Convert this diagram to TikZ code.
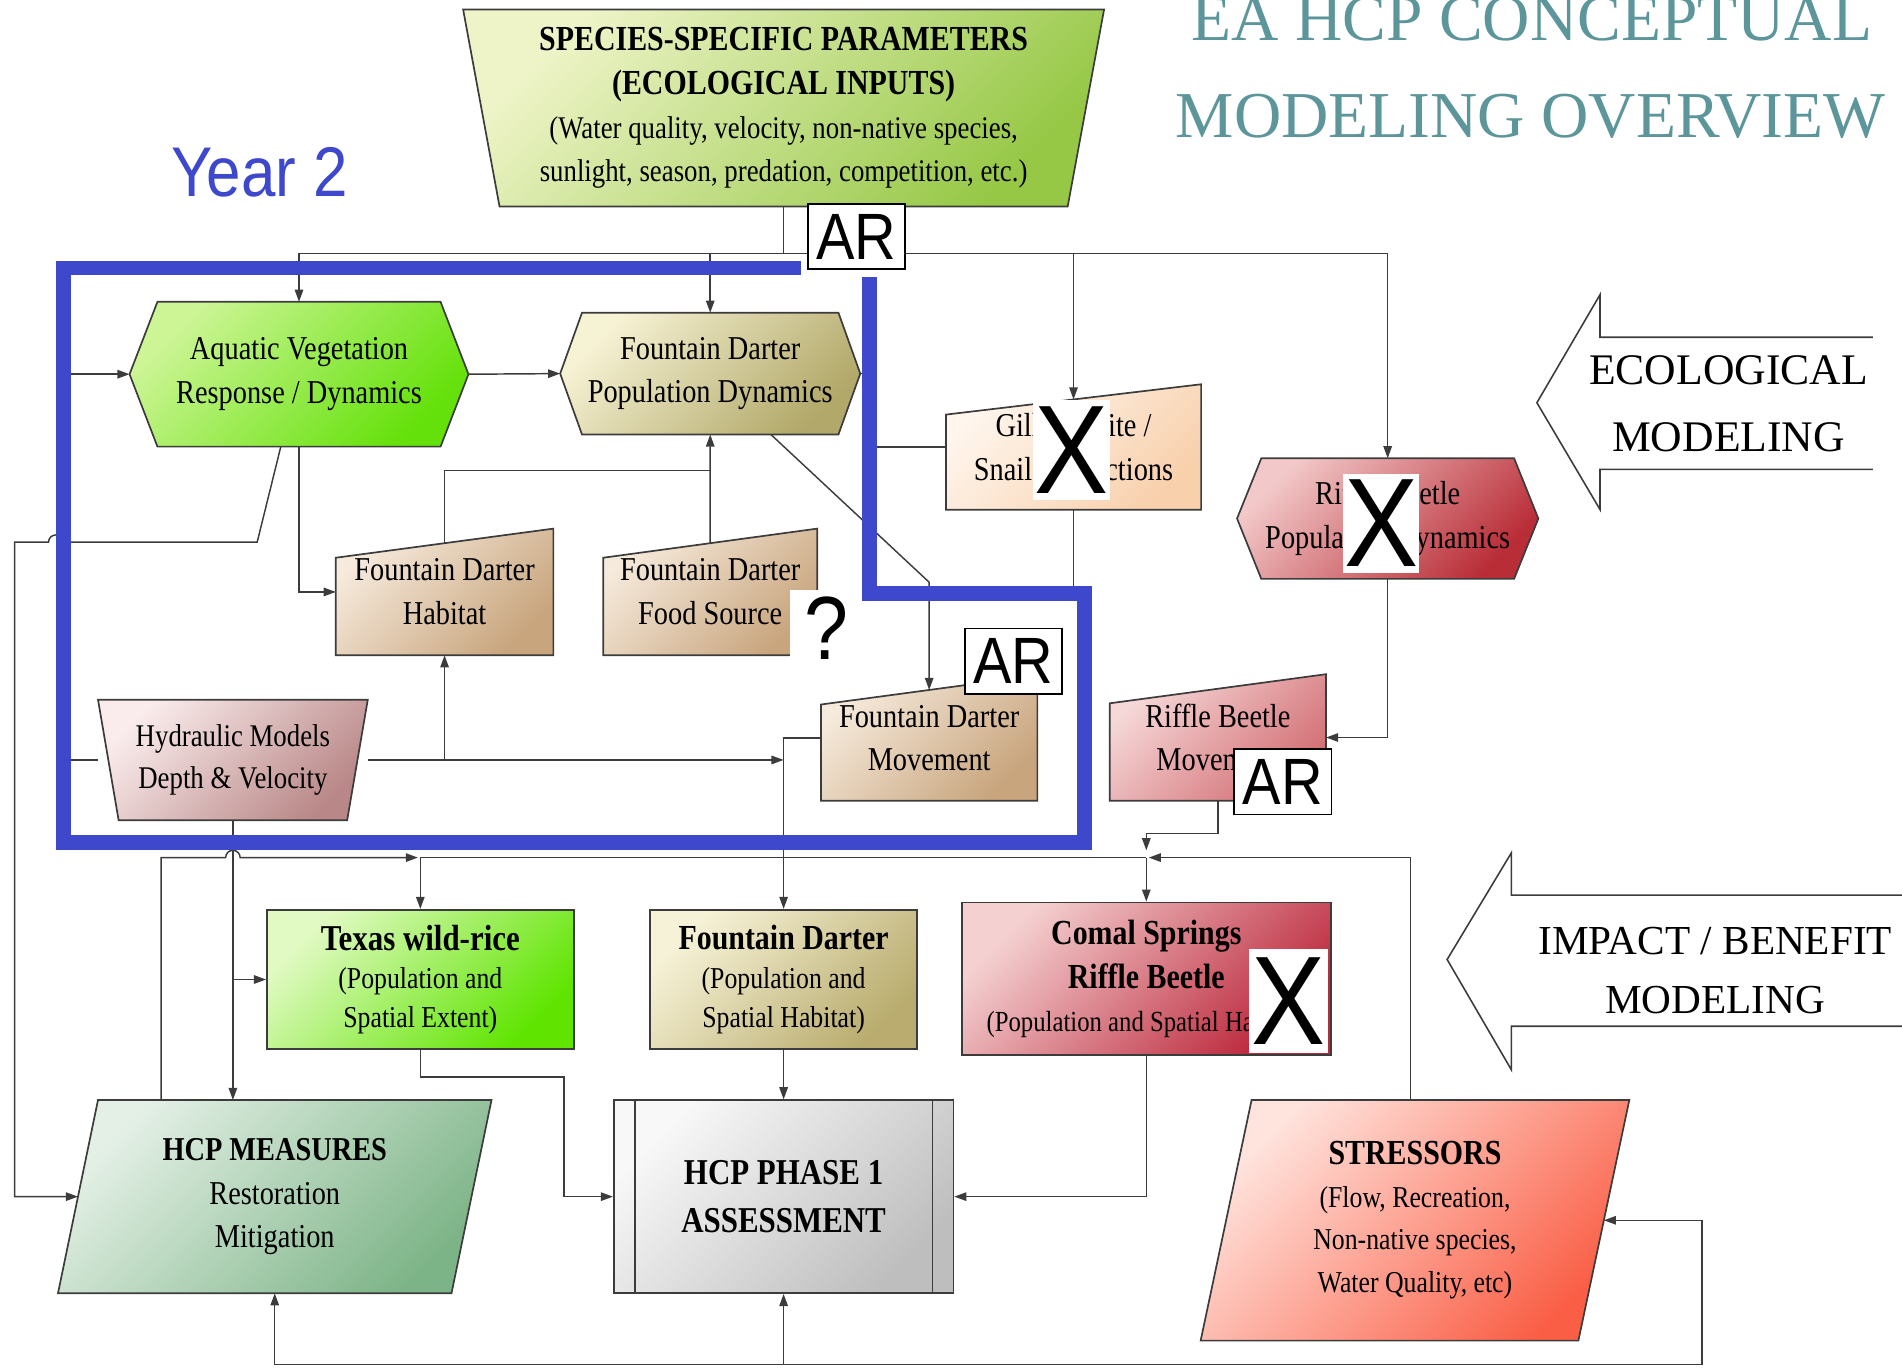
\documentclass[tikz,border=0pt]{standalone}
\usepackage{fontspec}
\setmainfont{Liberation Serif}[FakeStretch=0.85]
\newfontfamily\plainserif{Liberation Serif}
\newfontfamily\tagfont{Liberation Sans}[FakeStretch=0.88]
\usetikzlibrary{arrows.meta,calc}

\definecolor{yearblue}{RGB}{62,72,204}
\definecolor{titleteal}{RGB}{92,150,155}
\definecolor{linegray}{RGB}{60,60,60}
\definecolor{specA}{RGB}{238,244,200}\definecolor{specB}{RGB}{150,200,70}
\definecolor{aqvA}{RGB}{205,245,150}\definecolor{aqvB}{RGB}{100,225,10}
\definecolor{fdpA}{RGB}{246,242,212}\definecolor{fdpB}{RGB}{178,168,105}
\definecolor{tanA}{RGB}{246,234,220}\definecolor{tanB}{RGB}{200,165,125}
\definecolor{hydA}{RGB}{250,236,236}\definecolor{hydB}{RGB}{185,135,135}
\definecolor{gillA}{RGB}{255,246,238}\definecolor{gillB}{RGB}{248,208,172}
\definecolor{rbpA}{RGB}{242,200,200}\definecolor{rbpB}{RGB}{185,45,55}
\definecolor{rbmA}{RGB}{246,216,216}\definecolor{rbmB}{RGB}{210,110,115}
\definecolor{texA}{RGB}{225,250,195}\definecolor{texB}{RGB}{95,228,0}
\definecolor{fdbA}{RGB}{246,242,215}\definecolor{fdbB}{RGB}{185,172,110}
\definecolor{comA}{RGB}{244,208,208}\definecolor{comB}{RGB}{188,40,60}
\definecolor{hcpmA}{RGB}{228,240,230}\definecolor{hcpmB}{RGB}{125,180,135}
\definecolor{hcppA}{RGB}{248,248,248}\definecolor{hcppB}{RGB}{190,190,190}
\definecolor{strA}{RGB}{255,228,222}\definecolor{strB}{RGB}{250,95,70}

\pgfdeclarelayer{lines}
\pgfdeclarelayer{shapes}
\pgfsetlayers{lines,shapes,main}

\begin{document}
\begin{tikzpicture}[x=1pt,y=-1pt]
  \tikzset{>={Triangle[length=10pt,width=7pt]}}
  \tikzset{
    txt/.style={align=center,inner sep=0pt,font=\fontsize{27.5}{36}\selectfont},
    grad/.style 2 args={top color=#1,bottom color=#2,shading angle=45},
    shp/.style={draw=linegray,line width=1.4pt},
    con/.style={draw=linegray,line width=1.2pt},
    yearline/.style={draw=yearblue,line width=12pt},
    arbox/.style={draw=black,line width=1.3pt,fill=white,inner sep=0pt,minimum width=80,minimum height=54,font=\tagfont\fontsize{54}{54}\selectfont},
    xbox/.style={fill=white,inner sep=0pt,minimum width=63,minimum height=82,font=\tagfont\fontsize{104}{104}\selectfont},
    side/.style={align=center,inner sep=0pt,font=\plainserif\fontsize{36}{55}\selectfont},
  }
  \useasboundingbox (0,0) rectangle (1568,1131);

%%%%%%%%%%%%%%%%%%%%%%%%%%
% titles
\node[anchor=base,inner sep=0pt,text=titleteal,font=\plainserif\fontsize{54}{60}\selectfont] (title1) at (1263,33) {EA HCP CONCEPTUAL};
\node[anchor=base,inner sep=0pt,text=titleteal,font=\plainserif\fontsize{54}{60}\selectfont] (title2) at (1262,113) {MODELING OVERVIEW};
\node[inner sep=0pt,text=yearblue,font=\tagfont\fontsize{58}{58}\selectfont] (year) at (214,142) {Year 2};

%%%%%%%%%%%%%%%%%%%%%%%%%%
% ecological boxes
\node[txt,minimum width=528,minimum height=162] (spec) at (646,89) {\bfseries\fontsize{29}{40}\selectfont SPECIES-SPECIFIC PARAMETERS\\ \bfseries\fontsize{29}{40}\selectfont (ECOLOGICAL INPUTS)\\ \normalfont\fontsize{26}{37}\selectfont (Water quality, velocity, non-native species,\\ \normalfont\fontsize{26}{37}\selectfont sunlight, season, predation, competition, etc.)};
\node[txt,minimum width=279,minimum height=119] (aqv) at (246.5,308.5) {Aquatic Vegetation\\Response / Dynamics};
\node[txt,minimum width=247,minimum height=100] (fdp) at (585.5,308) {Fountain Darter\\Population Dynamics};
\node[txt,minimum width=179,minimum height=104] (hab) at (366.5,488) {Fountain Darter\\Habitat};
\node[txt,minimum width=176,minimum height=104] (food) at (585.5,488) {Fountain Darter\\Food Source};
\node[txt,minimum width=178,minimum height=103] (fdm) at (766,608.5) {Fountain Darter\\Movement};
\node[txt,minimum width=222,minimum height=99,font=\fontsize{26}{34}\selectfont] (hyd) at (192,626.5) {Hydraulic Models\\Depth \& Velocity};
\node[txt,minimum width=210,minimum height=103] (gill) at (885,368.5) {Gill Parasite /\\Snail Interactions};
\node[txt,minimum width=248,minimum height=99] (rbp) at (1144,427.5) {Riffle Beetle\\Population Dynamics};
\node[txt,minimum width=178,minimum height=104] (rbm) at (1004,608) {Riffle Beetle\\Movement};

%%%%%%%%%%%%%%%%%%%%%%%%%%
% impact / benefit boxes
\node[txt,shp,grad={texA}{texB},minimum width=253,minimum height=115,font=\fontsize{25}{32}\selectfont] (texas) at (346.5,807.5) {{\bfseries\fontsize{30}{38}\selectfont Texas wild-rice}\\(Population and\\Spatial Extent)};
\node[txt,shp,grad={fdbA}{fdbB},minimum width=220,minimum height=115,font=\fontsize{25}{32}\selectfont] (fdbox) at (646,807.5) {{\bfseries\fontsize{29}{38}\selectfont Fountain Darter}\\(Population and\\Spatial Habitat)};
\node[txt,shp,grad={comA}{comB},minimum width=304,minimum height=126,font=\fontsize{24}{36}\selectfont] (comal) at (945,807) {{\bfseries\fontsize{29}{38}\selectfont Comal Springs}\\{\bfseries\fontsize{29}{38}\selectfont Riffle Beetle}\\(Population and Spatial Habitat)};
\node[txt,minimum width=357,minimum height=159] (hcpm) at (226.5,986.5) {{\bfseries HCP MEASURES}\\Restoration\\Mitigation};
\node[txt,shp,grad={hcppA}{hcppB},minimum width=280,minimum height=159,font=\bfseries\fontsize{30}{40}\selectfont] (hcpp) at (646,986.5) {HCP PHASE 1\\ASSESSMENT};
\draw[shp,line width=1.2pt] ([xshift=18]hcpp.north west) -- ([xshift=18]hcpp.south west);
\draw[shp,line width=1.2pt] ([xshift=-18]hcpp.north east) -- ([xshift=-18]hcpp.south east);
\node[txt,minimum width=353,minimum height=198,font=\fontsize{25}{35}\selectfont] (stress) at (1166.5,1006) {{\bfseries\fontsize{29}{40}\selectfont STRESSORS}\\(Flow, Recreation,\\Non-native species,\\Water Quality, etc)};

% side arrows
\node[side] (ecol) at (1425,333) {ECOLOGICAL\\MODELING};
\node[side,font=\plainserif\fontsize{34}{49}\selectfont] (impact) at (1414,800) {IMPACT / BENEFIT\\MODELING};
\draw[linegray,line width=1.3pt] (1544,278) -- (1319,278) -- (1319,243) -- (1267,332) -- (1319,420) -- (1319,387) -- (1544,387);
\draw[linegray,line width=1.3pt] (1568,738) -- (1246,738) -- (1246,703) -- (1193,791) -- (1246,882) -- (1246,846) -- (1568,846);

%%%%%%%%%%%%%%%%%%%%%%%%%%
% shapes behind the texts
\begin{pgfonlayer}{shapes}
\path[shp,grad={specA}{specB}] (spec.north west) -- (spec.north east) -- ([xshift=-30]spec.south east) -- ([xshift=30]spec.south west) -- cycle;
\path[shp,grad={aqvA}{aqvB}] (aqv.west) -- ([xshift=23]aqv.north west) -- ([xshift=-23]aqv.north east) -- (aqv.east) -- ([xshift=-23]aqv.south east) -- ([xshift=23]aqv.south west) -- cycle;
\path[shp,grad={fdpA}{fdpB}] (fdp.west) -- ([xshift=18]fdp.north west) -- ([xshift=-18]fdp.north east) -- (fdp.east) -- ([xshift=-18]fdp.south east) -- ([xshift=18]fdp.south west) -- cycle;
\path[shp,grad={tanA}{tanB}] ([yshift=-24]hab.north west) -- (hab.north east) -- (hab.south east) -- (hab.south west) -- cycle;
\path[shp,grad={tanA}{tanB}] ([yshift=-24]food.north west) -- (food.north east) -- (food.south east) -- (food.south west) -- cycle;
\path[shp,grad={tanA}{tanB}] ([yshift=-24]fdm.north west) -- (fdm.north east) -- (fdm.south east) -- (fdm.south west) -- cycle;
\path[shp,grad={hydA}{hydB}] (hyd.north west) -- (hyd.north east) -- ([xshift=-17]hyd.south east) -- ([xshift=17]hyd.south west) -- cycle;
\path[shp,grad={gillA}{gillB}] ([yshift=-25]gill.north west) -- (gill.north east) -- (gill.south east) -- (gill.south west) -- cycle;
\path[shp,grad={rbpA}{rbpB}] (rbp.west) -- ([xshift=20]rbp.north west) -- ([xshift=-20]rbp.north east) -- (rbp.east) -- ([xshift=-20]rbp.south east) -- ([xshift=20]rbp.south west) -- cycle;
\path[shp,grad={rbmA}{rbmB}] ([yshift=-24]rbm.north west) -- (rbm.north east) -- (rbm.south east) -- (rbm.south west) -- cycle;
\path[shp,grad={hcpmA}{hcpmB}] ([xshift=33]hcpm.north west) -- (hcpm.north east) -- ([xshift=-33]hcpm.south east) -- (hcpm.south west) -- cycle;
\path[shp,grad={strA}{strB}] ([xshift=42]stress.north west) -- (stress.north east) -- ([xshift=-42]stress.south east) -- (stress.south west) -- cycle;
\end{pgfonlayer}

% points on slanted edges and junctions
\coordinate (habtop) at ($([yshift=-24]hab.north west)!.5!(hab.north east)$);
\coordinate (foodtop) at ($([yshift=-24]food.north west)!.5!(food.north east)$);
\coordinate (fdmtop) at ($([yshift=-24]fdm.north west)!.5!(fdm.north east)$);
\coordinate (gilltop) at ($([yshift=-25]gill.north west)!.5!(gill.north east)$);
\coordinate (hcpmW) at ($([xshift=33]hcpm.north west)!.5!(hcpm.south west)$);
\coordinate (hcpmN) at ([xshift=85]hcpm.north west);
\coordinate (stressE) at ($(stress.north east)!.5!([xshift=-42]stress.south east)$);
\coordinate (stressT) at ([xshift=-3.5]stress.north);
\coordinate (tb) at (0,209);
\coordinate (mb) at (0,707);
\coordinate (bb) at (0,1125);
\coordinate (jfd) at (585.5,388);
\coordinate (jdg) at (766,480);
\coordinate (jgb) at (766,489.5);
\coordinate (jtx) at (465,888);
\coordinate (jlt) at (212,447);
\coordinate (jbr) at (1403,1125);

%%%%%%%%%%%%%%%%%%%%%%%%%%
% connectors
\begin{pgfonlayer}{lines}
%TOP
\draw[con,->] (spec.south) |- (aqv.north |- tb) -- (aqv.north);
\draw[con,->] (fdp.north |- tb) -- (fdp.north);
\draw[con,->] (spec.south) |- (rbp.north |- tb) -- (rbp.north);
\draw[con,->] (gilltop |- tb) -- (gilltop);
% inside year 2
\draw[con,->] (aqv.east) -- (fdp.west);
\draw[con,->] (hyd.west) -| ([xshift=-57]aqv.west) -- (aqv.west);
\draw[con,->] (aqv.south) |- (hab.west);
\draw[con,->] ([xshift=-15]aqv.south) -- (jlt) -- (52,447) arc[start angle=0,end angle=-180,radius=6] -- (12,447) |- (hcpmW);
\draw[con] (habtop) |- (jfd);
\draw[con,->] (foodtop) -- (fdp.south);
\draw[con,->] ([xshift=50]fdp.south) -- (jdg) -- (fdmtop);
\draw[con,->] (hyd.east) -- (hyd.east -| fdbox.north);
\draw[con,->] (hab.south |- hyd.east) -- (hab.south);
\draw[con,->] (fdm.west) -| (fdbox.north);
\draw[con] (fdp.east) -- ++(13,0) |- (gill.west);
\draw[con] (gill.south) |- (jgb);
% riffle beetle
\draw[con,->] (rbp.south) |- (rbm.east);
\draw[con,->] (rbm.south) |- ($(comal.north |- mb)+(0,-20)$) -- ($(comal.north |- mb)+(0,-6)$);
\draw[con,->] (stressT) |- ([xshift=2]comal.north |- mb);
\draw[con,->] (comal.north |- mb) -- (comal.north);
% middle bus
\draw[con,->] (hcpmN) -- (hcpmN |- mb) -- (186,707) arc[start angle=180,end angle=360,radius=6] -- ([xshift=-2]texas.north |- mb);
\draw[con] (texas.north |- mb) -- (comal.north |- mb);
\draw[con,->] (texas.north |- mb) -- (texas.north);
\draw[con,->] (hyd.south) -- (hyd.south |- hcpm.north);
\draw[con,->] (hyd.south |- texas.west) -- (texas.west);
% DOWN
\draw[con,->] (texas.south) |- (jtx) |- (hcpp.west);
\draw[con,->] (fdbox.south) -- (hcpp.north);
\draw[con,->] (comal.south) |- (hcpp.east);
\draw[con,<->] (hcpm.south) |- (jbr) |- (stressE);
\draw[con,->] (hcpp.south |- bb) -- (hcpp.south);
\end{pgfonlayer}

%%%%%%%%%%%%%%%%%%%%%%%%%%
% year 2 frame and marks
\draw[yearline] (660,221) -- (52.5,221) -- (52.5,694.5) -- (894,694.5) -- (894,489.5) -- (717,489.5) -- (717,228);

\node[arbox] (ar1) at (706,195) {AR};
\node[arbox] (ar2) at (835.5,545) {AR};
\node[arbox] (ar3) at (1057.5,644.5) {AR};
\node[xbox] (x1) at (883.5,371) {X};
\node[xbox] (x2) at (1138.5,431.5) {X};
\node[xbox,minimum width=65,minimum height=86] (x3) at (1062.5,825) {X};
\node[fill=white,inner sep=0pt,minimum width=60,minimum height=64,font=\tagfont\fontsize{74}{74}\selectfont] (qm) at (681,518) {?};

\end{tikzpicture}
\end{document}
